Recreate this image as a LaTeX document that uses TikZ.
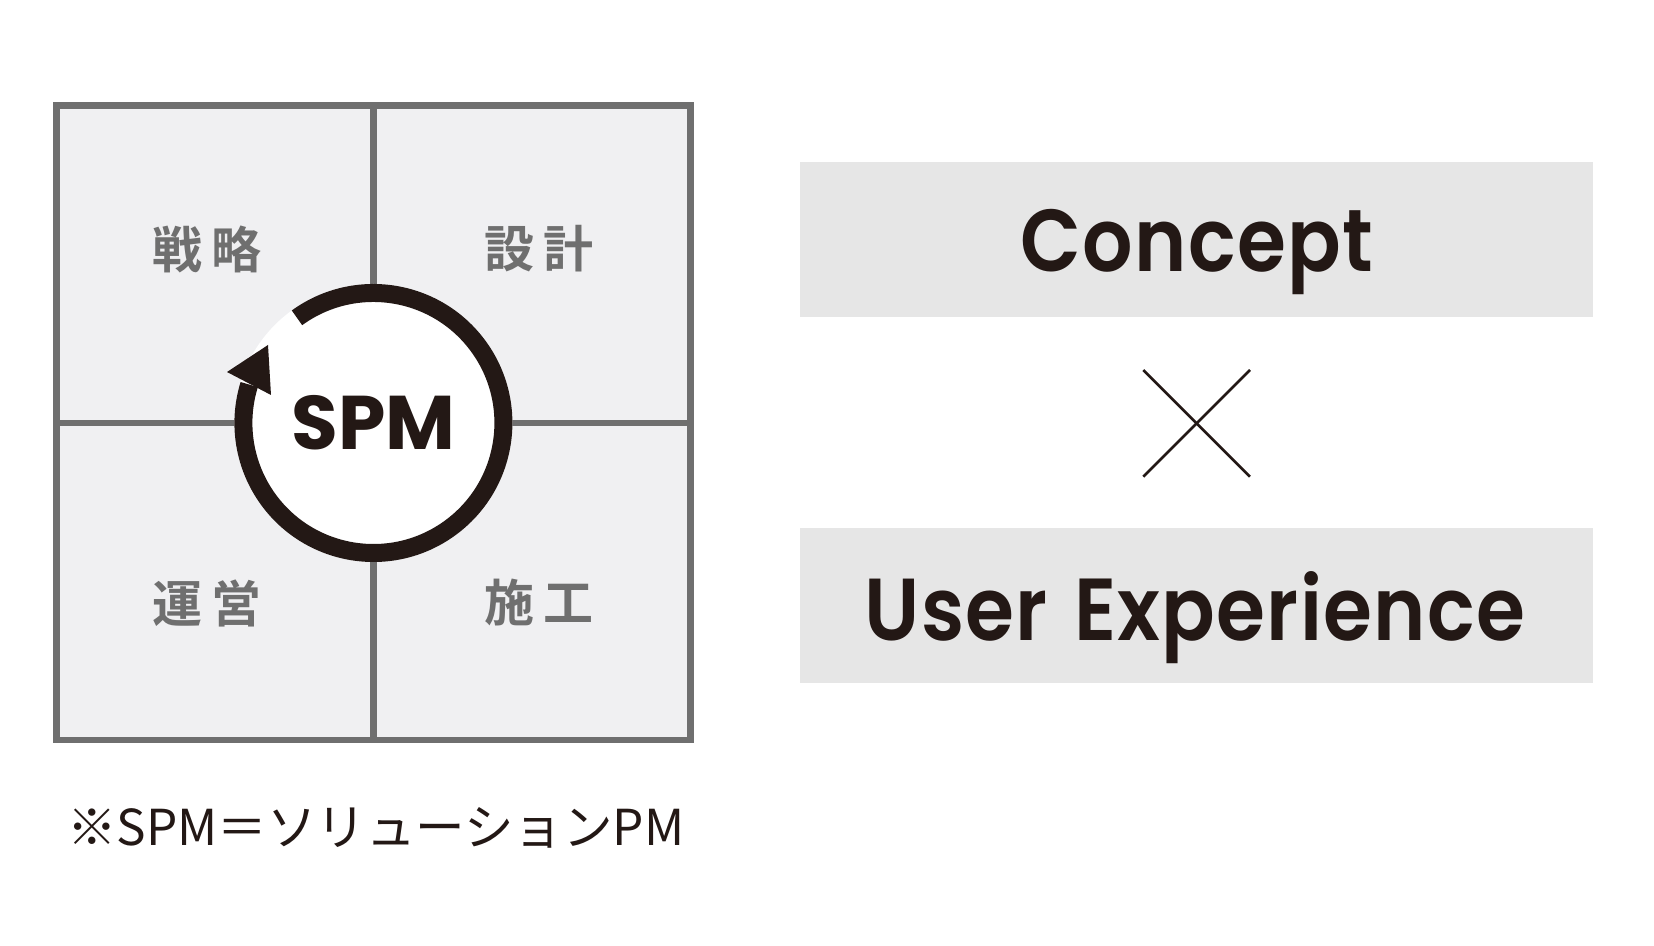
\documentclass[tikz,border=0pt]{standalone}
\usepackage{fontspec}
\setmainfont{Poppins}
\newfontfamily\jpfont{Noto Sans CJK JP}
\newfontfamily\jpbold{Noto Sans CJK JP Bold}
\IfFontExistsTF{Poppins SemiBold}
  {\newfontfamily\headfont[LetterSpace=1.5,FakeStretch=0.9]{Poppins SemiBold}}
  {\IfFontExistsTF{Poppins Medium}
    {\newfontfamily\headfont[LetterSpace=1.5,FakeStretch=0.9,FakeBold=1.2]{Poppins Medium}}
    {\newfontfamily\headfont[LetterSpace=1,FakeBold=2,FakeStretch=0.9]{Poppins}}}
\usepackage{xcolor}
\usetikzlibrary{calc}

\definecolor{ink}{HTML}{231815}
\definecolor{framegray}{HTML}{6F6F6F}
\definecolor{cellfill}{HTML}{F0F0F2}
\definecolor{bandfill}{HTML}{E6E6E6}

\begin{document}
\begin{tikzpicture}[
  x=1bp, y=1bp,
  line join=miter,
  frame/.style={draw=framegray, line width=6.8bp},
  ring/.style={draw=ink, line width=18bp},
  cell/.style={text=framegray, font=\jpbold\fontsize{50bp}{50bp}\selectfont, inner sep=0pt},
  band/.style={fill=bandfill, minimum width=793bp, minimum height=155bp, inner sep=0pt},
  bandtext/.style={text=ink, font=\headfont\fontsize{88bp}{88bp}\selectfont, inner sep=0pt, anchor=base}
]
  \useasboundingbox (0,0) rectangle (1654,945);

  % four-cell square
  \coordinate (c)  at (373.4,522);
  \coordinate (sw) at (56.3,205);
  \coordinate (ne) at (690.5,839.3);
  \draw[frame, fill=cellfill] (sw) rectangle (ne);
  \draw[frame] (sw -| c) -- (ne -| c);
  \draw[frame] (sw |- c) -- (ne |- c);

  \node[cell] (senryaku) at (207,696) {戦\kern9bp 略};
  \node[cell] (sekkei)   at (539,696) {設\kern9bp 計};
  \node[cell] (unei)     at (207,342) {運\kern9bp 営};
  \node[cell] (seko)     at (539,342) {施\kern9bp 工};

  % cycle round SPM
  \fill[white] (c) circle[radius=139];
  \draw[ring] ([shift={(126:130)}]c) arc[start angle=126, end angle=-197.2, radius=130];
  \fill[ink] ($(c)+(-105.4,78)$) -- ($(c)+(-146.4,51)$) -- ($(c)+(-102.4,28)$) -- cycle;
  \node[text=ink, font=\bfseries\fontsize{76bp}{76bp}\selectfont, inner sep=0pt] (spm) at (c) {SPM};

  \node[text=ink, font=\jpfont\fontsize{49.5bp}{49.5bp}\selectfont, inner sep=0pt, anchor=west]
    (note) at (67,117) {※SPM＝ソリューションPM};

  % right column
  \node[band] (concept) at (1196.6,705.5) {};
  \node[band] (ux)      at (1196.6,339)   {};
  \node[bandtext] (concepttxt) at (1197,673) {Concept};
  \node[bandtext] (uxtxt)      at (1195,304) {User\hspace{6bp} Experience};

  \coordinate (xa) at (1143.3,575);
  \coordinate (xb) at (1250,468.3);
  \draw[ink, line width=2.6bp] (xa) -- (xb);
  \draw[ink, line width=2.6bp] (xa |- xb) -- (xb |- xa);
\end{tikzpicture}
\end{document}
